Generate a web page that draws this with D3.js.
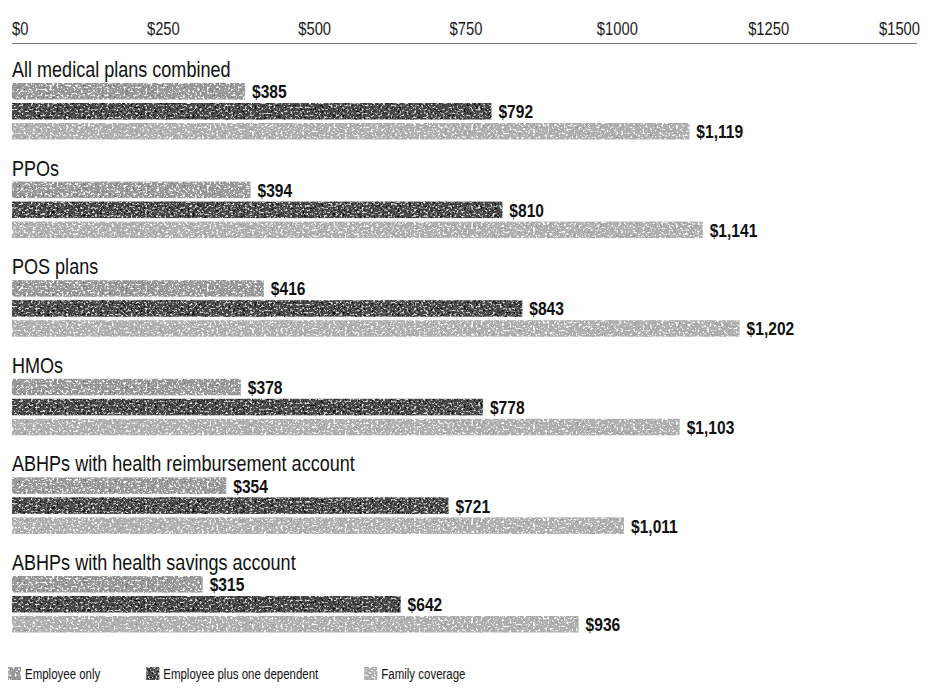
<!DOCTYPE html>
<html>
<head>
<meta charset="utf-8">
<script src="https://cdn.jsdelivr.net/npm/d3@7"></script>
<style>
  html, body { margin: 0; padding: 0; background: #fff; }
  svg { display: block; }
  .lbl { font-family: "Liberation Sans", Arial, sans-serif; }
</style>
</head>
<body>
<svg id="chart" width="929" height="691"></svg>
<script>
// Monthly premium contributions by plan type
const categories = [
  "All medical plans combined",
  "PPOs",
  "POS plans",
  "HMOs",
  "ABHPs with health reimbursement account",
  "ABHPs with health savings account"
];
const series = ["Employee only", "Employee plus one dependent", "Family coverage"];
const employeeOnly     = [385, 394, 416, 378, 354, 315];
const employeePlusOne  = [792, 810, 843, 778, 721, 642];
const familyCoverage   = [1119, 1141, 1202, 1103, 1011, 936];
const tickValues       = [0, 250, 500, 750, 1000, 1250, 1500];

const seriesValues = [employeeOnly, employeePlusOne, familyCoverage];
const colors = ["#9a9a9a", "#4a4a4a", "#b0b0b0"];
// texture per series: [white speckle strength, black speckle strength]
const grainSpec = [[1, 0.35], [0.55, 1], [1, 0.2]];

const svg = d3.select("#chart");
const NARROW = 0.82; // horizontal squeeze for a condensed gothic look

// grainy halftone textures for the bars
const defs = svg.append("defs");
grainSpec.forEach(([wk, dk], i) => {
  const f = defs.append("filter").attr("id", "grain" + i)
    .attr("x", 0).attr("y", 0).attr("width", 1).attr("height", 1);
  f.append("feTurbulence").attr("type", "fractalNoise").attr("baseFrequency", "0.42 0.5")
    .attr("numOctaves", 3).attr("seed", 17 + i).attr("result", "noise");
  f.append("feColorMatrix").attr("in", "noise").attr("type", "matrix")
    .attr("values", `0 0 0 0 1  0 0 0 0 1  0 0 0 0 1  ${6 * wk} 0 0 0 ${-3.3 * wk}`).attr("result", "white");
  f.append("feColorMatrix").attr("in", "noise").attr("type", "matrix")
    .attr("values", `0 0 0 0 0  0 0 0 0 0  0 0 0 0 0  0 ${-6 * dk} 0 0 ${2.7 * dk}`).attr("result", "dark");
  f.append("feComposite").attr("in", "white").attr("in2", "SourceGraphic").attr("operator", "in").attr("result", "w2");
  f.append("feComposite").attr("in", "dark").attr("in2", "SourceGraphic").attr("operator", "in").attr("result", "d2");
  const merge = f.append("feMerge");
  merge.append("feMergeNode").attr("in", "SourceGraphic");
  merge.append("feMergeNode").attr("in", "d2");
  merge.append("feMergeNode").attr("in", "w2");
});

// place a condensed label at (px, py)
function narrowText(sel, px, py) {
  return sel.attr("class", "lbl")
    .attr("transform", (d, i) => `translate(${px(d, i)},${py(d, i)}) scale(${NARROW},1)`);
}

// scales
const x = d3.scaleLinear().domain([0, 1500]).range([12, 920]);
const groupStep = 98.6, groupTop = 55;
const y = d3.scaleBand().domain(categories)
  .range([groupTop, groupTop + groupStep * categories.length]);
const ySeries = d3.scaleBand().domain(series).range([28, 84.5]).paddingInner(0.175);

// top axis
const axisY = 43;
svg.append("line")
  .attr("x1", x(0)).attr("x2", x(1500) - 3)
  .attr("y1", axisY + 0.5).attr("y2", axisY + 0.5)
  .attr("stroke", "#777").attr("stroke-width", 1);
narrowText(svg.append("g").selectAll("text").data(tickValues).join("text"),
    d => x(d), () => 35)
  .attr("text-anchor", (d, i) => i === 0 ? "start" : (i === tickValues.length - 1 ? "end" : "middle"))
  .attr("font-size", 18)
  .attr("fill", "#1a1a1a")
  .text(d => d3.format("$d")(d));

// groups
const fmt = d3.format("$,");
const groups = svg.append("g").selectAll("g").data(categories).join("g")
  .attr("transform", d => `translate(0,${y(d)})`);

narrowText(groups.append("text"), () => x(0), () => 22)
  .attr("font-size", 22)
  .attr("fill", "#111")
  .text(d => d);

series.forEach((s, si) => {
  groups.append("rect")
    .attr("x", x(0))
    .attr("y", ySeries(s))
    .attr("width", (d, ci) => x(seriesValues[si][ci]) - x(0))
    .attr("height", ySeries.bandwidth())
    .attr("fill", colors[si])
    .attr("filter", `url(#grain${si})`);
  narrowText(groups.append("text"),
      (d, ci) => x(seriesValues[si][ci]) + 7,
      () => ySeries(s) + ySeries.bandwidth() / 2)
    .attr("dy", "0.36em")
    .attr("font-size", 19)
    .attr("font-weight", "bold")
    .attr("fill", "#111")
    .text((d, ci) => fmt(seriesValues[si][ci]));
});

// legend
const legend = svg.append("g").attr("transform", "translate(0,667)");
let lx = 8;
series.forEach((s, si) => {
  const g = legend.append("g").attr("transform", `translate(${lx},0)`);
  g.append("rect").attr("width", 13).attr("height", 13)
    .attr("fill", colors[si]).attr("filter", `url(#grain${si})`);
  const t = g.append("text").attr("class", "lbl")
    .attr("transform", `translate(17,11.5) scale(${NARROW},1)`)
    .attr("font-size", 14).attr("fill", "#111").text(s);
  lx += 17 + t.node().getComputedTextLength() * NARROW + 46;
});
</script>
</body>
</html>
